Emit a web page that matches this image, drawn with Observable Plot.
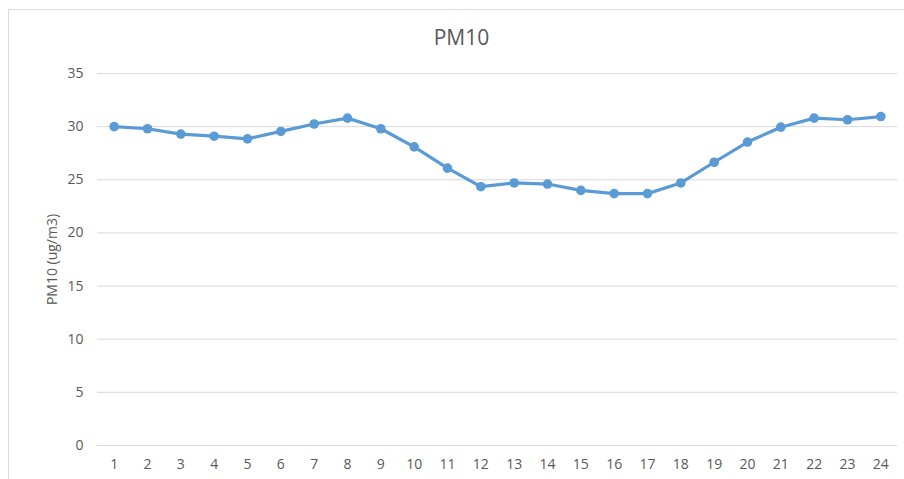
<!DOCTYPE html>
<html>
<head>
<meta charset="utf-8">
<script src="https://cdn.jsdelivr.net/npm/d3@7"></script>
<script src="https://cdn.jsdelivr.net/npm/@observablehq/plot@0.6"></script>
<style>
  html, body { margin: 0; padding: 0; background: #fff; overflow: hidden; }
  #wrap { position: relative; width: 904px; height: 479px; }
  #border { position: absolute; left: 8px; top: 9px; width: 1000px; height: 1000px;
            border: 1px solid #D9D9D9; pointer-events: none; }
  #chart { position: absolute; left: 0; top: 0; }
</style>
</head>
<body>
<div id="wrap"><div id="chart"></div><div id="border"></div></div>
<script>
const title = "PM10";
const yLabel = "PM10 (ug/m3)";
const hours = [1,2,3,4,5,6,7,8,9,10,11,12,13,14,15,16,17,18,19,20,21,22,23,24];
const pm10 = [30.0,29.8,29.3,29.1,28.85,29.55,30.25,30.8,29.8,28.1,26.1,24.35,24.7,24.6,24.0,23.7,23.7,24.7,26.65,28.55,29.95,30.8,30.65,30.95];
const yTicks = [0,5,10,15,20,25,30,35];

const data = hours.map((h, i) => ({hour: h, value: pm10[i]}));

const chart = Plot.plot({
  width: 904,
  height: 479,
  marginLeft: 97,
  marginRight: 7,
  marginTop: 73,
  marginBottom: 34,
  style: {fontFamily: "'Open Sans', sans-serif", fontSize: "14px", color: "#595959", background: "transparent"},
  x: {type: "point", domain: hours, padding: 0.5, round: false, label: null},
  y: {domain: [0, 35], label: null},
  marks: [
    Plot.gridY(yTicks, {stroke: "#D9D9D9", strokeOpacity: 1}),
    Plot.axisY(yTicks, {tickSize: 0, tickPadding: 14, label: yLabel, labelAnchor: "center", labelOffset: 50, labelArrow: "none", fill: "#595959", fontSize: 14}),
    Plot.axisX(hours, {tickSize: 0, tickPadding: 14, label: null, fill: "#595959", fontSize: 14}),
    Plot.line(data, {x: "hour", y: "value", stroke: "#5B9BD5", strokeWidth: 3.2}),
    Plot.dot(data, {x: "hour", y: "value", fill: "#5B9BD5", r: 4.8}),
    Plot.text([title], {frameAnchor: "top", lineAnchor: "middle", dx: -36, dy: -35, fontSize: 21, fill: "#595959"})
  ]
});
document.getElementById("chart").appendChild(chart);
</script>
</body>
</html>
